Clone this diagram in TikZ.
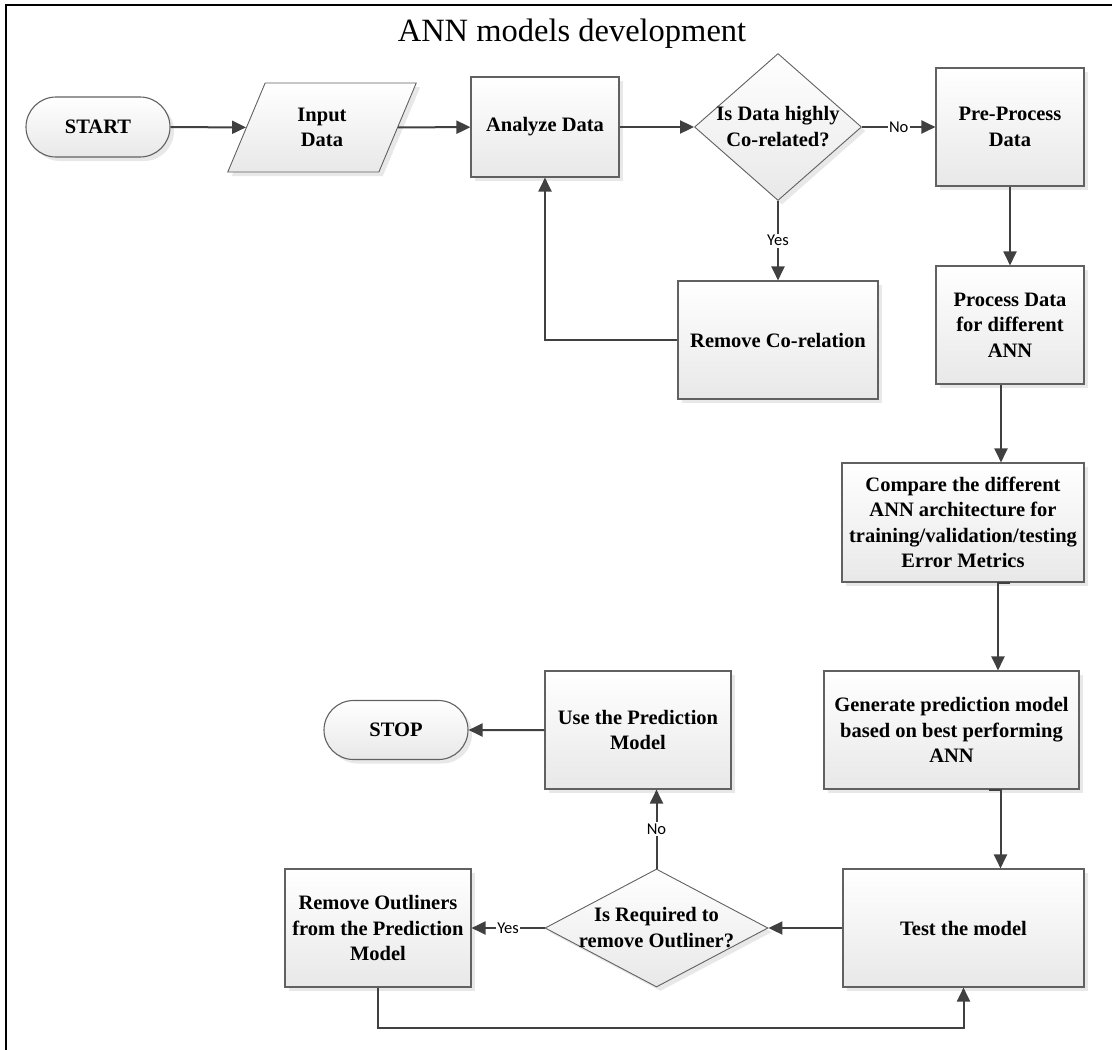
\documentclass[tikz,border=0pt]{standalone}
\usepackage{fontspec}
\setmainfont{Liberation Serif}
\newfontfamily\lblfont{Carlito}
\usetikzlibrary{shapes.geometric,shapes.misc,arrows.meta,shadows}
\begin{document}
\begin{tikzpicture}[x=1pt,y=-1pt,
  box/.style={draw=black!62, line width=1.1pt, top color=white, bottom color=black!9,
    drop shadow={shadow xshift=4pt,shadow yshift=-4pt,fill=black!18},
    font=\bfseries\fontsize{20.5}{25.5}\selectfont, align=center, inner sep=2pt},
  term/.style={box, rounded rectangle},
  dec/.style={box, diamond, inner sep=0pt, line width=0.9pt},
  dtext/.style={font=\bfseries\fontsize{20.5}{26}\selectfont, align=center, inner sep=0pt},
  arr/.style={draw=black!75, line width=2pt, -{Triangle[length=14pt,width=13pt]}},
  lbl/.style={font=\lblfont\fontsize{16.5}{16.5}\selectfont, fill=white, inner sep=1.5pt},
  frame/.style={draw=black, line width=2pt}
]
\useasboundingbox (0,0) rectangle (1112,1050);
\draw[frame] (6,1050) -- (6,5) -- (1112,5);
\node[font=\fontsize{32.5}{32.5}\selectfont, anchor=base] (title) at (572,41) {ANN models development};

\node[term, minimum width=148pt, minimum height=60pt] (start) at (98,127) {START};
\node[box, trapezium, trapezium left angle=68, trapezium right angle=112, trapezium stretches=true,
  minimum width=190pt, minimum height=89pt, line width=0.9pt] (in) at (322,127.5) {Input\\Data};
\node[box, minimum width=148pt, minimum height=100pt] (an) at (545,127) {Analyze Data};
\node[dec, minimum width=167pt, minimum height=147pt,
  label={[dtext]center:Is Data highly\\Co-related?}] (d1) at (778,127) {};
\node[box, minimum width=148pt, minimum height=118pt] (pre) at (1010,127) {Pre-Process\\Data};
\node[box, minimum width=200pt, minimum height=118pt] (rc) at (778,340) {Remove Co-relation};
\node[box, minimum width=148pt, minimum height=118pt] (pd) at (1010,325) {Process Data\\for different\\ANN};
\node[box, minimum width=242pt, minimum height=119pt] (cmp) at (963,522.5) {Compare the different\\ANN architecture for\\training/validation/testing\\Error Metrics};
\node[box, minimum width=255pt, minimum height=118pt] (gen) at (951.5,730) {Generate prediction model\\based on best performing\\ANN};
\node[box, minimum width=241pt, minimum height=118pt] (test) at (963.5,928) {Test the model};
\node[dec, minimum width=223pt, minimum height=118pt,
  label={[dtext]center:Is Required to\\remove Outliner?}] (d2) at (656.5,928) {};
\node[box, minimum width=186pt, minimum height=118pt] (use) at (638,730) {Use the Prediction\\Model};
\node[term, minimum width=148pt, minimum height=59pt] (stop) at (396,730) {STOP};
\node[box, minimum width=186pt, minimum height=118pt] (ro) at (378,928) {Remove Outliners\\from the Prediction\\Model};

\coordinate (p1) at ([xshift=-9pt]pd.south);
\coordinate (c1) at ([xshift=47pt]cmp.south);
\coordinate (c2) at ([xshift=35pt]cmp.south);
\coordinate (g1) at ([xshift=37pt]gen.south);
\coordinate (g2) at ([xshift=49pt]gen.south);

\draw[arr] (start) -- (in);
\draw[arr] (in) -- (an);
\draw[arr] (an) -- (d1);
\draw[arr] (d1) -- node[lbl]{No} (pre);
\draw[arr] (d1) -- node[lbl]{Yes} (rc);
\draw[arr] (rc) -| (an);
\draw[arr] (pre) -- (pd);
\draw[arr] (p1) -- (p1 |- cmp.north);
\draw[arr] (c1) -- (c2) -- (c2 |- gen.north);
\draw[arr] (g1) -- (g2) -- (g2 |- test.north);
\draw[arr] (test) -- (d2);
\draw[arr] (d2) -- node[lbl]{Yes} (ro);
\draw[arr] (d2.north) -- node[lbl]{No} (d2.north |- use.south);
\draw[arr] (use) -- (stop);
\draw[arr] (ro.south) -- ++(0,40) -| (test.south);
\end{tikzpicture}
\end{document}
